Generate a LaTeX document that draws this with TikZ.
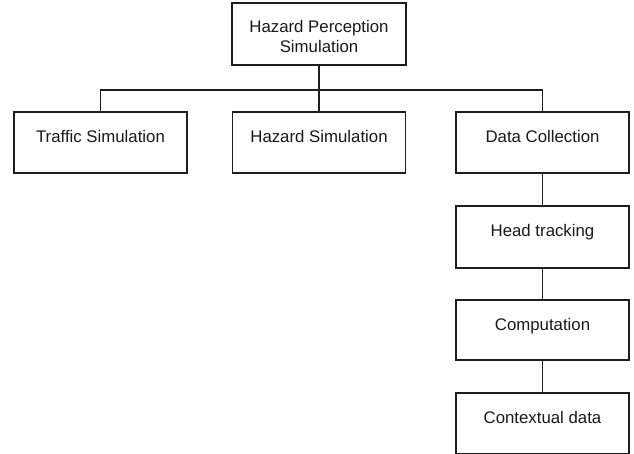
\documentclass[tikz,border=0pt]{standalone}
\usepackage{fontspec}
\setmainfont{Liberation Sans}
\definecolor{linec}{RGB}{30,30,30}
\definecolor{textc}{RGB}{25,25,25}
\begin{document}
\begin{tikzpicture}[x=1pt,y=-1pt,
  box/.style={draw=linec, line width=1.5pt, minimum width=173pt, minimum height=61pt,
    inner sep=0pt, text height=8pt, text depth=8pt,
    font=\fontsize{16.8}{20}\selectfont, text=textc},
  lbl/.style={inner sep=0pt, font=\fontsize{16.8}{20}\selectfont, text=textc, align=center},
  conn/.style={draw=linec, line width=1.6pt}]
\useasboundingbox (0,0) rectangle (634,454);
\clip (0,0) rectangle (634,454);

\node[box, minimum width=174pt, minimum height=62pt] (top) at (319,34) {};
\node[lbl] (toplabel) at (319,36.9) {Hazard Perception\\Simulation};

\node[box] (traffic) at (100.5,142.5) {Traffic Simulation};
\node[box] (hazard)  at (319,142.5) {Hazard Simulation};
\node[box] (data)    at (542.5,142.5) {Data Collection};
\node[box, minimum height=62pt] (head) at (542.5,237) {Head tracking};
\node[box, minimum height=60pt] (comp) at (542.5,330) {Computation};
\node[box] (ctx)     at (542.5,423.5) {Contextual data};

\coordinate (j) at (319,90);
\draw[conn] (top.south) -- (j) -- (hazard.north);
\draw[conn] (traffic.north) |- (j) -| (data.north);
\draw[conn] (data.south) -- (head.north);
\draw[conn] (head.south) -- (comp.north);
\draw[conn] (comp.south) -- (ctx.north);
\end{tikzpicture}
\end{document}
